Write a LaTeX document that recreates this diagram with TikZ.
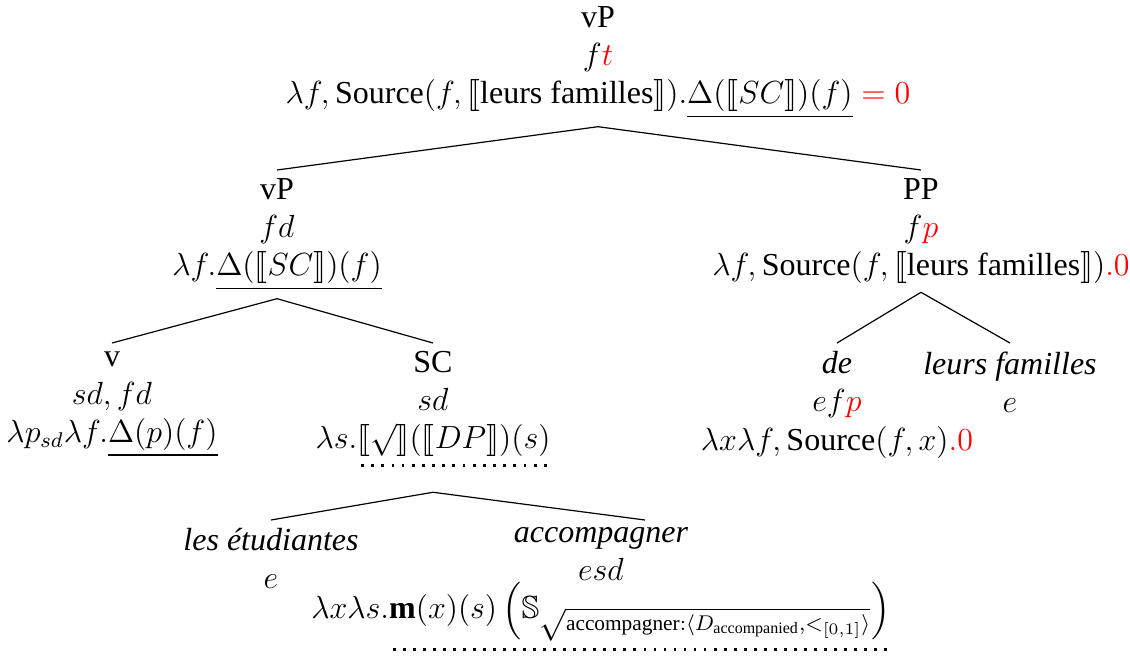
\documentclass[tikz,border=0pt]{standalone}
\usepackage{amsmath,amssymb,stmaryrd}
\usepackage{fontspec}
\setmainfont{Liberation Serif}
\newcommand\dotul[1]{\setbox0=\hbox{#1}\vtop{\offinterlineskip\copy0\kern2.6pt\hbox to\wd0{\xleaders\hbox to 3.75pt{\hss\vrule width 1.05pt height 1.05pt\hss}\hfill}}}
\begin{document}
\begin{tikzpicture}[x=0.375pt,y=-0.375pt,
  tn/.style={align=center, inner sep=3pt, font=\fontsize{12}{14.3}\selectfont},
  edge/.style={line width=0.45pt}]
\useasboundingbox (0,0) rectangle (1130,655);
\node[tn,anchor=north] (top) at (598,-2) {vP\\ $f\textcolor{red}{t}$\\ $\lambda f, \text{Source}(f, \llbracket\text{leurs familles}\rrbracket).\underline{\Delta(\llbracket SC\rrbracket)(f)}\mathrel{\textcolor{red}{=}}\textcolor{red}{0}$};
\node[tn,anchor=north] (lvp) at (277,170) {vP\\ $fd$\\ $\lambda f.\underline{\Delta(\llbracket SC\rrbracket)(f)}$};
\node[tn,anchor=north] (pp) at (921,170) {PP\\ $f\textcolor{red}{p}$\\ $\lambda f, \text{Source}(f, \llbracket\text{leurs familles}\rrbracket)\textcolor{red}{.0}$};
\node[tn,anchor=north] (v) at (112,343) {v\\ $sd, fd$\\ $\lambda p_{sd}\lambda f.\underline{\Delta(p)(f)}$};
\node[tn,anchor=north] (sc) at (433,343) {SC\\ $sd$\\ $\lambda s.$\dotul{$\llbracket\sqrt{\vphantom{x}}\rrbracket(\llbracket DP\rrbracket)(s)$}};
\node[tn,anchor=north] (de) at (837,343) {\textit{de}\\ $ef\textcolor{red}{p}$\\ $\lambda x\lambda f, \text{Source}(f,x)\textcolor{red}{.0}$};
\node[tn,anchor=north] (lf) at (1010,343) {\textit{leurs familles}\\ $e$};
\node[tn,anchor=north] (les) at (271,520) {\textit{les étudiantes}\\ $e$};
\node[tn,anchor=north] (acc) at (601,519) {\textit{accompagner}\\ $esd$\\ $\lambda x\lambda s.$\dotul{$\mathbf{m}(x)(s)\left(\mathbb{S}_{\sqrt{\text{accompagner}:\langle D_{\text{accompanied}},<_{[0,1]}\rangle}}\right)$}};
\draw[edge] (top.south) -- (lvp.north);
\draw[edge] (top.south) -- (pp.north);
\draw[edge] (lvp.south) -- (v.north);
\draw[edge] (lvp.south) -- (sc.north);
\draw[edge] (pp.south) -- (de.north);
\draw[edge] (pp.south) -- (lf.north);
\draw[edge] ([yshift=-17*0.375pt]sc.south) -- (les.north);
\draw[edge] ([yshift=-17*0.375pt]sc.south) -- ([xshift=44*0.375pt,yshift=-1*0.375pt]acc.north);
\end{tikzpicture}
\end{document}
